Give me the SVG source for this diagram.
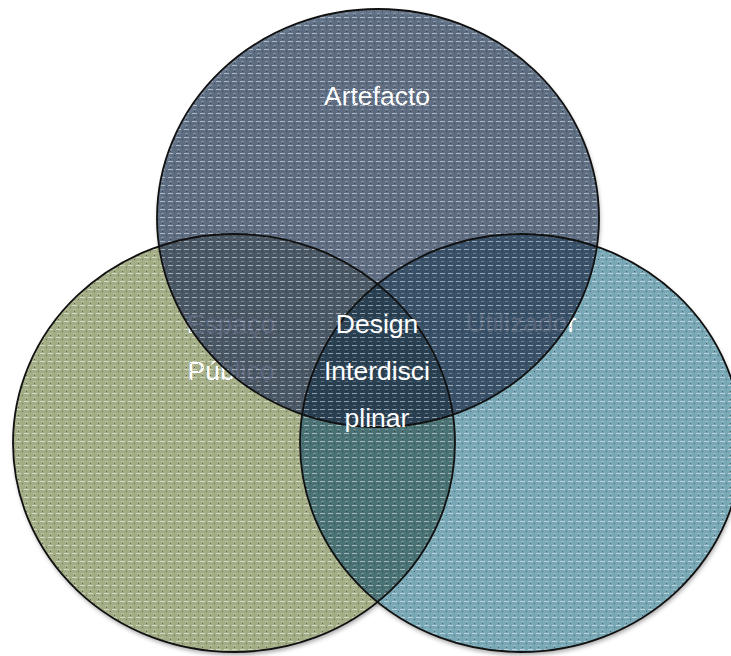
<svg xmlns="http://www.w3.org/2000/svg" width="731" height="656" viewBox="0 0 731 656">
  <style>
    .lbl { font-family: "Liberation Sans", Arial, sans-serif; font-size: 26.5px; fill: #ffffff; text-anchor: middle; }
    .outline { fill: none; stroke: #111111; stroke-width: 1.8; }
  </style>
  <defs>
    <filter id="shadow" x="-10%" y="-10%" width="120%" height="120%">
      <feGaussianBlur stdDeviation="2"/>
    </filter>
    <pattern id="tex" width="8" height="8" patternUnits="userSpaceOnUse">
      <rect x="0" y="1" width="5" height="1" fill="#ffffff" fill-opacity="0.5"/>
      <rect x="1" y="5" width="3" height="1" fill="#ffffff" fill-opacity="0.25"/>
      <rect x="6" y="3" width="1" height="1" fill="#000000" fill-opacity="0.4"/>
      <rect x="2" y="7" width="1" height="1" fill="#000000" fill-opacity="0.4"/>
    </pattern>
    <ellipse id="eTop" cx="378" cy="218" rx="221" ry="209"/>
    <ellipse id="eLeft" cx="234" cy="443" rx="221" ry="209"/>
    <ellipse id="eRight" cx="521" cy="443" rx="221" ry="209"/>
    <clipPath id="cTop"><use href="#eTop"/></clipPath>
    <clipPath id="cLeft"><use href="#eLeft"/></clipPath>
    <clipPath id="cRight"><use href="#eRight"/></clipPath>
    <clipPath id="cAll">
      <use href="#eTop"/><use href="#eLeft"/><use href="#eRight"/>
    </clipPath>
  </defs>

  <rect x="0" y="0" width="731" height="656" fill="#ffffff"/>

  <!-- soft shadow -->
  <g filter="url(#shadow)" fill="#000000" fill-opacity="0.35" transform="translate(1,3)">
    <use href="#eLeft"/><use href="#eRight"/><use href="#eTop"/>
  </g>

  <!-- Espaço Público -->
  <g id="espaco-publico">
    <use href="#eLeft" fill="#a4ae86"/>
    <text class="lbl" x="231" y="333">Espaço</text>
    <text class="lbl" x="231" y="380">Público</text>
  </g>

  <!-- Utilizador -->
  <g id="utilizador">
    <use href="#eRight" fill="#78a7b5"/>
    <g clip-path="url(#cLeft)"><use href="#eRight" fill="#4b7275"/></g>
    <text class="lbl" x="521" y="332">Utilizador</text>
  </g>

  <!-- Artefacto (semi-transparent overlay) -->
  <g id="artefacto">
    <g opacity="0.79">
      <use href="#eTop" fill="#4b5f79"/>
      <g clip-path="url(#cLeft)"><use href="#eTop" fill="#33415d"/></g>
      <g clip-path="url(#cRight)"><use href="#eTop" fill="#293c57"/></g>
      <g clip-path="url(#cLeft)"><g clip-path="url(#cRight)"><use href="#eTop" fill="#22344c"/></g></g>
    </g>
    <text class="lbl" x="377" y="105">Artefacto</text>
  </g>

  <!-- texture -->
  <rect x="0" y="0" width="731" height="656" fill="url(#tex)" clip-path="url(#cAll)"/>

  <!-- outlines -->
  <g id="outlines">
    <use href="#eLeft" class="outline"/>
    <use href="#eRight" class="outline"/>
    <use href="#eTop" class="outline"/>
  </g>

  <!-- center -->
  <g id="design-interdisciplinar">
    <text class="lbl" x="377" y="333">Design</text>
    <text class="lbl" x="377" y="380">Interdisci</text>
    <text class="lbl" x="377" y="427">plinar</text>
  </g>
</svg>
